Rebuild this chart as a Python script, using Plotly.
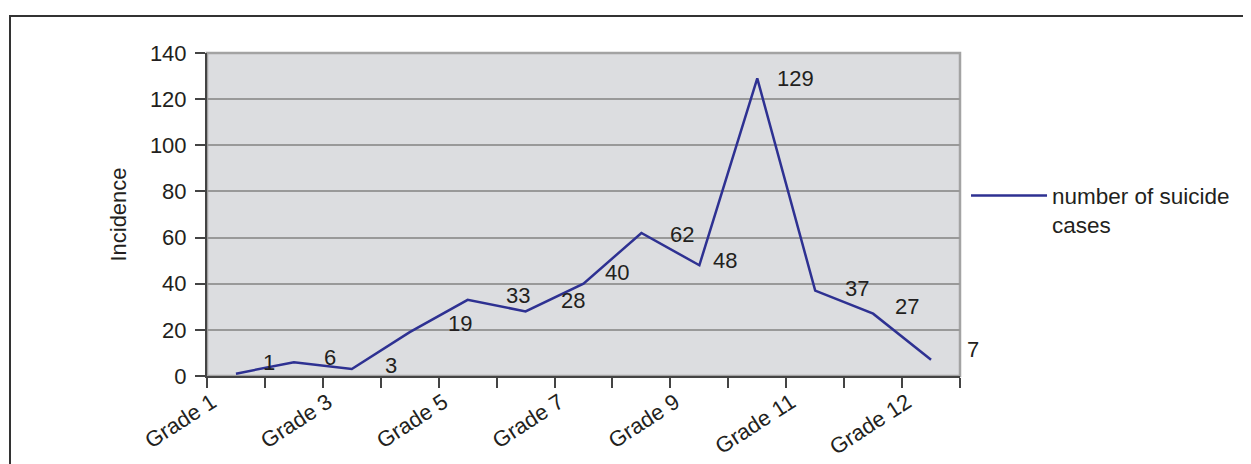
import plotly.graph_objects as go

# ---- data ----
grade_index = list(range(1, 14))
suicide_cases = [1, 6, 3, 19, 33, 28, 40, 62, 48, 129, 37, 27, 7]
tick_positions = [1, 3, 5, 7, 9, 11, 13]
tick_labels = ["Grade 1", "Grade 3", "Grade 5", "Grade 7", "Grade 9", "Grade 11", "Grade 12"]
y_ticks = [0, 20, 40, 60, 80, 100, 120, 140]
series_name = "number of suicide<br>cases"

# label offsets (pixels) as in the original data labels
label_dx = [33, 36, 39, 50, 50, 47, 33, 41, 26, 38, 42, 34, 42]
label_dy = [11, 5, 4, 9, 4, 11, 11, -2, 5, 0, 2, 7, 10]

FONT = "Liberation Sans, Arial, sans-serif"
TXT = "#231f20"
FS = 22

# page body has an 8px margin; compensate so the chart sits where the original does
BODY = 8
L, R, T, B = 207, 960, 53, 376
W, H = 1251, 464

fig = go.Figure()
fig.add_trace(go.Scatter(
    x=grade_index, y=suicide_cases, mode="lines", name=series_name,
    line=dict(color="#2e3192", width=2.5), showlegend=True,
))

for x, y, dx, dy in zip(grade_index, suicide_cases, label_dx, label_dy):
    fig.add_annotation(x=x, y=y, text=str(y), showarrow=False, xshift=dx, yshift=dy,
                       font=dict(family=FONT, size=FS, color=TXT))

# plot-area border (gray)
fig.add_shape(type="rect", xref="paper", yref="paper", x0=0, x1=1, y0=0, y1=1,
              line=dict(color="#a3a3a3", width=2.5), layer="below")
# outer frame
fig.add_shape(type="rect", xref="paper", yref="paper",
              x0=(10 - L) / (R - L), x1=2.0, y0=-1.0, y1=(B - 16) / (B - T),
              line=dict(color="#333333", width=2))

fig.update_layout(
    width=W - BODY, height=H - BODY,
    margin=dict(l=L - BODY, r=W - R, t=T - BODY, b=H - B, autoexpand=False),
    paper_bgcolor="white", plot_bgcolor="#dcdde0",
    font=dict(family=FONT, size=FS, color=TXT),
    legend=dict(x=1.008, y=0.513, xanchor="left", yanchor="middle", valign="top",
                font=dict(size=22.5), itemwidth=76, bgcolor="rgba(0,0,0,0)"),
    xaxis=dict(
        range=[0.5, 13.5], tickmode="array", tickvals=tick_positions, ticktext=tick_labels,
        tickangle=-33, ticks="", showgrid=False, zeroline=False,
        showline=True, linecolor="#444444", linewidth=2,
        ticklabelshift=-24, ticklabelstandoff=3,
        minor=dict(tickmode="array", tickvals=[i + 0.5 for i in range(0, 14)],
                   ticks="outside", ticklen=10, tickcolor="#444444", tickwidth=1.5, showgrid=False),
        tickfont=dict(size=FS, color=TXT),
    ),
    yaxis=dict(
        range=[0, 140], tickmode="array", tickvals=y_ticks,
        ticks="outside", ticklen=10, tickcolor="#444444", tickwidth=1.5,
        showgrid=True, gridcolor="#999999", gridwidth=1.5, zeroline=False,
        showline=True, linecolor="#444444", linewidth=2,
        ticklabelstandoff=4,
        title=dict(text="Incidence", standoff=17, font=dict(size=FS, color=TXT)),
        tickfont=dict(size=FS, color=TXT),
    ),
)

fig.write_html("out.html")
